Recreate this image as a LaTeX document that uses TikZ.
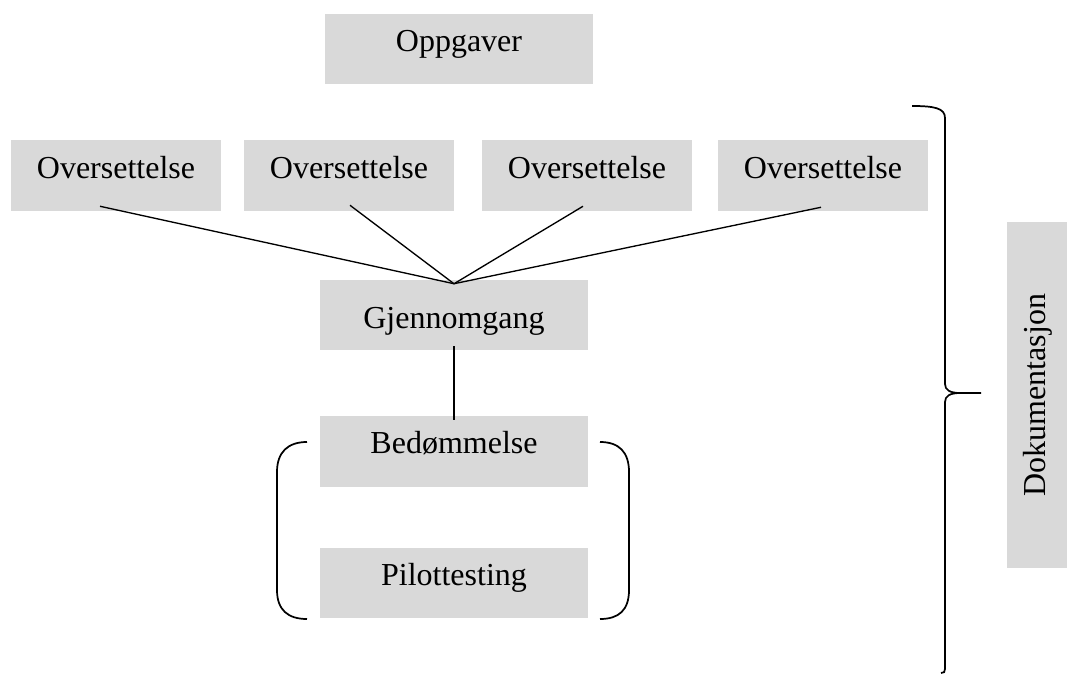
\documentclass[tikz,border=0pt]{standalone}
\usepackage{fontspec}
\setmainfont{Liberation Serif}
\usetikzlibrary{calc}
\definecolor{boxgray}{HTML}{D9D9D9}
\tikzset{
  gbox/.style={fill=boxgray, inner sep=0pt, font=\fontsize{24}{28}\selectfont},
  wide/.style={gbox, minimum width=201pt},
  narrow/.style={gbox, minimum width=157.5pt, text height=28.5pt, text depth=24.75pt},
  link/.style={line width=1pt},
  brack/.style={line width=1.3pt},
}
\begin{document}
\begin{tikzpicture}[x=0.75pt,y=-0.75pt]
\useasboundingbox (0,0) rectangle (1067,674);
\node[wide, text height=28.5pt, text depth=24pt] (opp) at (459,49) {Oppgaver};
\node[narrow] (ov1) at (116,175.5) {Oversettelse};
\node[narrow] (ov2) at (349,175.5) {Oversettelse};
\node[narrow] (ov3) at (587,175.5) {Oversettelse};
\node[narrow] (ov4) at (823,175.5) {Oversettelse};
\node[wide, text height=36pt, text depth=16.5pt] (gj) at (454,315) {Gjennomgang};
\node[wide, text height=27.75pt, text depth=25.5pt] (bed) at (454,451.5) {Bedømmelse};
\node[wide, text height=27.75pt, text depth=24.75pt] (pil) at (454,583) {Pilottesting};
\node[gbox, rotate=90, minimum width=259.5pt, text height=28.5pt, text depth=16.5pt] (dok) at (1037,395) {Dokumentasjon};
\coordinate (hub) at ($(gj.north)+(0,4)$);
\draw[link] ($(ov1.south)+(-16,-5)$) -- (hub);
\draw[link] ($(ov2.south)+(1,-6)$) -- (hub);
\draw[link] ($(ov3.south)+(-4,-5)$) -- (hub);
\draw[link] ($(ov4.south)+(-2,-4)$) -- (hub);
\draw[link] ($(gj.south)+(0,-4)$) -- ($(bed.north)+(0,4)$);
% round brackets
\draw[brack] (307,442) .. controls (288,442) and (277,452) .. (277,472) -- (277,590) .. controls (277,610) and (288,619) .. (307,619);
\draw[brack] (600,442) .. controls (619,442) and (629,452) .. (629,472) -- (629,590) .. controls (629,610) and (619,619) .. (600,619);
% big brace
\draw[brack] (912,106) .. controls (934,106) and (945,108) .. (945,118) -- (945,384) .. controls (945,390) and (950,393) .. (960,393) -- (981,393);
\draw[brack] (960,393) .. controls (950,393) and (945,396) .. (945,402) -- (945,669) .. controls (945,672) and (944,673) .. (941,673);
\end{tikzpicture}
\end{document}
